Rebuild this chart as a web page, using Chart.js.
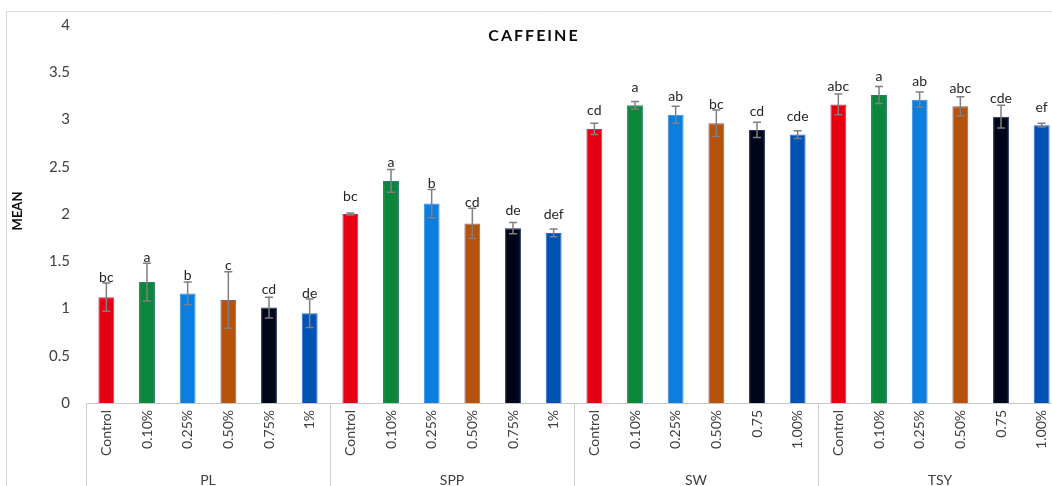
<!DOCTYPE html>
<html>
<head>
<meta charset="utf-8">
<script src="https://cdn.jsdelivr.net/npm/chart.js@4.4.1/dist/chart.umd.min.js"></script>
<style>
  html, body { margin: 0; padding: 0; background: #fff; overflow: hidden; }
  #wrap { width: 1070px; height: 486px; }
</style>
</head>
<body>
<div id="wrap"><canvas id="chart" width="1070" height="486"></canvas></div>
<script>
const groupNames = ["PL", "SPP", "SW", "TSY"];

const treatmentLabels = [
  "Control", "0.10%", "0.25%", "0.50%", "0.75%", "1%",
  "Control", "0.10%", "0.25%", "0.50%", "0.75%", "1%",
  "Control", "0.10%", "0.25%", "0.50%", "0.75", "1.00%",
  "Control", "0.10%", "0.25%", "0.50%", "0.75", "1.00%"
];

const meanValues = [
  1.12, 1.28, 1.16, 1.09, 1.01, 0.95,
  2.00, 2.35, 2.11, 1.90, 1.85, 1.80,
  2.90, 3.15, 3.05, 2.96, 2.89, 2.84,
  3.16, 3.26, 3.21, 3.14, 3.03, 2.94
];

const errorValues = [
  0.15, 0.20, 0.12, 0.30, 0.11, 0.15,
  0.01, 0.12, 0.15, 0.16, 0.06, 0.04,
  0.06, 0.04, 0.09, 0.14, 0.08, 0.04,
  0.11, 0.09, 0.08, 0.10, 0.12, 0.02
];

const letterLabels = [
  "bc", "a", "b", "c", "cd", "de",
  "bc", "a", "b", "cd", "de", "def",
  "cd", "a", "ab", "bc", "cd", "cde",
  "abc", "a", "ab", "abc", "cde", "ef"
];

const treatmentColors = ["#e60014", "#0a873a", "#0b7fe0", "#b5520c", "#00061a", "#0052b4"];
const treatmentEdges = ["#c0305a", "#2a7a6a", "#3a88e0", "#8a6070", "#1a3060", "#2a66c8"];

const textColor = "#404040";
const lineGray = "#d0d0d0";
const fontFamily = "Lato, 'Liberation Sans', sans-serif";

const extras = {
  id: "extras",
  afterDatasetsDraw(chart) {
    const ctx = chart.ctx;
    const x = chart.scales.x;
    const y = chart.scales.y;
    const area = chart.chartArea;

    // error bars
    ctx.save();
    ctx.strokeStyle = "#7f7f7f";
    ctx.lineWidth = 1.5;
    meanValues.forEach((v, i) => {
      const cx = x.getPixelForValue(i);
      const top = y.getPixelForValue(v + errorValues[i]);
      const bot = y.getPixelForValue(v - errorValues[i]);
      ctx.beginPath();
      ctx.moveTo(cx, top);
      ctx.lineTo(cx, bot);
      ctx.moveTo(cx - 4, top);
      ctx.lineTo(cx + 4, top);
      ctx.moveTo(cx - 4, bot);
      ctx.lineTo(cx + 4, bot);
      ctx.stroke();
    });

    // significance letters
    ctx.fillStyle = "#262626";
    ctx.font = "14px " + fontFamily;
    ctx.textAlign = "center";
    ctx.textBaseline = "middle";
    meanValues.forEach((v, i) => {
      const cx = x.getPixelForValue(i);
      const barTop = y.getPixelForValue(v);
      const errTop = y.getPixelForValue(v + errorValues[i]);
      ctx.fillText(letterLabels[i], cx, Math.min(barTop - 18, errTop - 6));
    });

    // group separators and group names
    const perGroup = treatmentLabels.length / groupNames.length;
    const step = x.getPixelForValue(1) - x.getPixelForValue(0);
    ctx.strokeStyle = lineGray;
    ctx.lineWidth = 1;
    ctx.fillStyle = textColor;
    ctx.font = "14px " + fontFamily;
    groupNames.forEach((g, gi) => {
      const left = x.getPixelForValue(gi * perGroup) - step / 2;
      const right = left + step * perGroup;
      ctx.beginPath();
      ctx.moveTo(Math.round(left) + 0.5, area.bottom);
      ctx.lineTo(Math.round(left) + 0.5, chart.height);
      ctx.moveTo(Math.round(right) + 0.5, area.bottom);
      ctx.lineTo(Math.round(right) + 0.5, chart.height);
      ctx.stroke();
      ctx.fillText(g, (left + right) / 2, 480);
    });

    // outer chart border
    ctx.strokeStyle = "#d9d9d9";
    ctx.beginPath();
    ctx.moveTo(6.5, chart.height);
    ctx.lineTo(6.5, 11.5);
    ctx.lineTo(chart.width, 11.5);
    ctx.stroke();

    // title
    ctx.fillStyle = "#0d0d0d";
    ctx.font = "bold 16px " + fontFamily;
    ctx.letterSpacing = "2px";
    ctx.fillText("CAFFEINE", 534, 36);
    ctx.letterSpacing = "0px";

    // y axis title
    ctx.translate(18, 211);
    ctx.rotate(-Math.PI / 2);
    ctx.font = "bold 13px " + fontFamily;
    ctx.fillText("MEAN", 0, 0);
    ctx.restore();
  }
};

new Chart(document.getElementById("chart"), {
  type: "bar",
  data: {
    labels: treatmentLabels,
    datasets: [
      {
        data: meanValues,
        backgroundColor: meanValues.map((_, i) => treatmentColors[i % 6]),
        borderColor: meanValues.map((_, i) => treatmentEdges[i % 6]),
        borderWidth: 1,
        barPercentage: 0.39,
        categoryPercentage: 1
      }
    ]
  },
  options: {
    responsive: false,
    animation: false,
    layout: {
      padding: { left: 0, top: 22, right: 8, bottom: 0 }
    },
    plugins: {
      legend: { display: false },
      tooltip: { enabled: false },
      title: { display: false }
    },
    scales: {
      x: {
        grid: { display: false, drawTicks: false },
        border: { display: true, color: "#c8c8c8", width: 1 },
        ticks: {
          color: textColor,
          font: { size: 14, family: fontFamily },
          minRotation: 90,
          maxRotation: 90,
          autoSkip: false,
          padding: 7
        },
        afterFit(scale) {
          scale.height = 83;
        }
      },
      y: {
        min: 0,
        max: 4,
        grid: { display: false, drawTicks: false },
        border: { display: false },
        ticks: {
          stepSize: 0.5,
          color: textColor,
          font: { size: 15, family: fontFamily },
          padding: 16,
          callback: (value) => String(value)
        },
        afterFit(scale) {
          scale.width = 86;
        }
      }
    }
  },
  plugins: [extras]
});
</script>
</body>
</html>
